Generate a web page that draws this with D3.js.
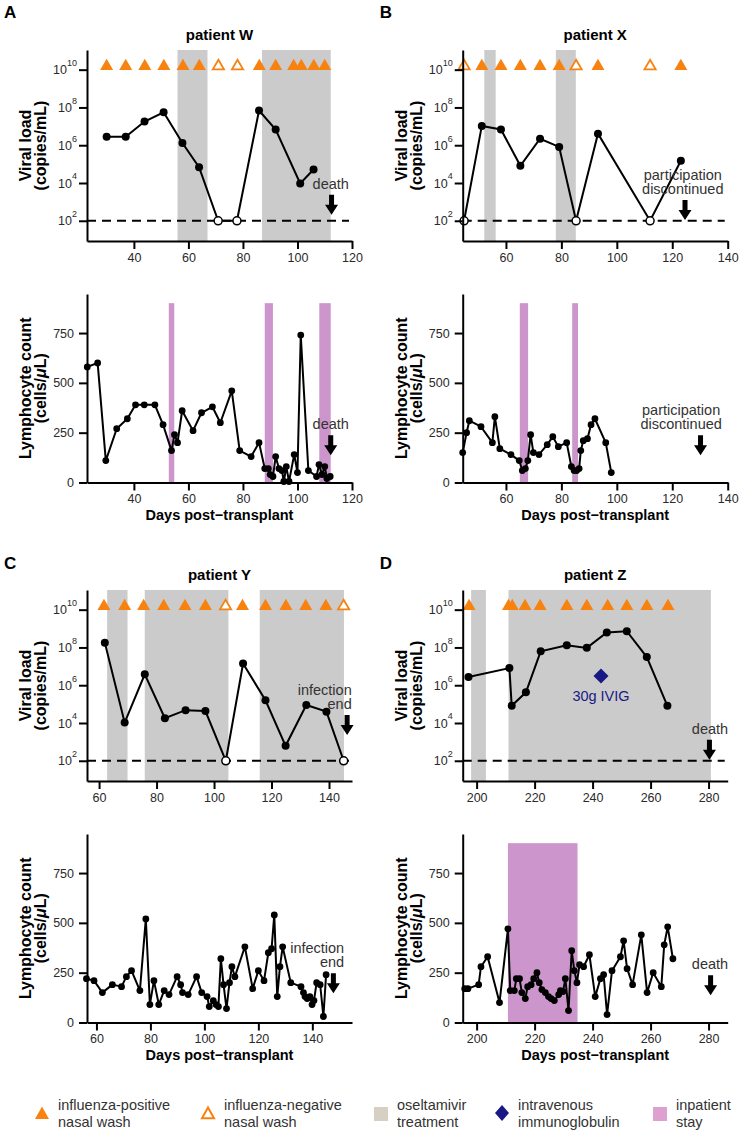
<!DOCTYPE html>
<html><head><meta charset="utf-8">
<script src="https://cdn.jsdelivr.net/npm/d3@7"></script>
<style>body{margin:0;background:#fff}</style>
</head><body>
<svg id="c" width="741" height="1133"></svg>
<script>
// ---------------- DATA ----------------
// Patient W (panel A)
const aLoadDays = [30, 37, 43.9, 50.9, 57.8, 63.9, 70.9, 77.8, 85.9, 92, 101, 105.9];
const aLoad = [2.8e6, 2.8e6, 1.8e7, 5.5e7, 1.3e6, 6.8e4, 100, 100, 6.9e7, 6.8e6, 9.5e3, 5.2e4];
const aPosWash = [30, 37, 44, 51, 58, 64, 86, 92, 98.6, 101.4, 106, 110];
const aNegWash = [71, 78];
const aOseltamivir = [[56, 67], [87, 112.2]];
const aLymphDays = [22.9, 26.7, 29.7, 33.7, 37.6, 40.6, 43.8, 47.7, 50.7, 53.8, 54.9, 56, 57.7, 61.7, 64.8, 68.8, 71.7, 75.9, 78.8, 83, 85.9, 88, 89.3, 90, 91, 92, 93.2, 94.3, 95, 95.9, 96.9, 98.8, 100, 101.2, 104, 107, 107.9, 109, 110, 110.8, 112];
const aLymph = [580, 600, 110, 270, 320, 390, 390, 390, 290, 160, 240, 200, 360, 260, 350, 380, 300, 460, 160, 130, 200, 70, 70, 40, 30, 130, 70, 60, 5, 80, 5, 140, 50, 740, 60, 30, 90, 40, 80, 20, 30];
const aInpatient = [[52.8, 54.8], [88, 91], [108, 112.2]];

// Patient X (panel B)
const bLoadDays = [44.9, 51.3, 58.2, 65.2, 72.3, 79.2, 85.3, 93.2, 112, 123.1];
const bLoad = [100, 1.05e7, 6.8e6, 8.1e4, 2.2e6, 8.1e5, 100, 4.1e6, 100, 1.5e5];
const bPosWash = [51.3, 58.2, 65.2, 72.3, 79.2, 93.2, 123.1];
const bNegWash = [44.9, 85.3, 112];
const bOseltamivir = [[52.2, 56.3], [78, 85.2]];
const bLymphDays = [44.4, 45.8, 46.8, 51, 55.1, 56, 57.8, 61.8, 64.8, 65.9, 67, 67.9, 68.9, 69.9, 71.9, 74.9, 76.9, 78.9, 81.9, 83.6, 84.6, 85.5, 86.4, 87, 87.9, 89.4, 90.7, 92.1, 96, 98];
const bLymph = [150, 250, 310, 280, 200, 330, 170, 140, 110, 60, 70, 110, 240, 150, 140, 190, 230, 180, 200, 80, 60, 60, 70, 160, 210, 220, 290, 320, 200, 50];
const bInpatient = [[65, 68], [83.9, 86]];

// Patient Y (panel C)
const cLoadDays = [62, 68.9, 75.9, 82.9, 90.1, 97, 104.1, 110.1, 117.9, 124.9, 132.1, 139.1, 145.1];
const cLoad = [1.8e8, 1.05e4, 3.8e6, 1.8e4, 4.8e4, 4.3e4, 100, 1.4e7, 1.6e5, 620, 8.9e4, 4e4, 100];
const cPosWash = [61.7, 68.9, 75.5, 82.5, 89.9, 97, 109.9, 117.9, 125, 131.9, 138.9];
const cNegWash = [104, 145.1];
const cOseltamivir = [[62.8, 69.9], [75.9, 105], [115.9, 145.2]];
const cLymphDays = [56.3, 59.1, 62.2, 65.9, 69.3, 71.1, 73, 76.1, 78.3, 79.8, 81.3, 83.1, 85.1, 86.9, 89.9, 91.2, 91.9, 94, 97.1, 99, 101, 101.8, 103.3, 104.3, 105.2, 106.1, 107.1, 108.2, 109.3, 110.2, 111.3, 115, 117.9, 120, 122.1, 123.7, 124.9, 125.9, 127, 128, 129, 132, 135.8, 136.7, 137.3, 138.1, 139.1, 139.9, 140.6, 141.6, 142.9, 144.1, 145.1];
const cLymph = [220, 210, 150, 190, 180, 230, 260, 160, 520, 90, 210, 90, 160, 140, 230, 190, 150, 140, 230, 150, 130, 80, 110, 90, 80, 320, 190, 70, 200, 280, 230, 380, 170, 260, 210, 350, 370, 540, 130, 280, 380, 200, 180, 150, 130, 120, 130, 90, 110, 200, 190, 30, 240];
const cInpatient = [];

// Patient Z (panel D)
const dLoadDays = [197.2, 211.3, 212.1, 217, 222.1, 231.1, 238, 244.9, 251.8, 258.7, 265.8];
const dLoad = [2.75e6, 8.1e6, 8.1e4, 4.2e5, 6.2e7, 1.3e8, 9.5e7, 6.2e8, 7.2e8, 3.1e7, 8.1e4];
const dPosWash = [197.4, 211.0, 212.3, 216.7, 221.9, 231.1, 238, 245.2, 251.8, 258.7, 266];
const dNegWash = [];
const dOseltamivir = [[198.1, 203.2], [211, 280.8]];
const dIvigDays = [242.9];
const dIvigLevel = [3.1e6];
const dLymphDays = [195.9, 197, 200.7, 201.5, 203.8, 207.9, 210.8, 211.6, 213, 213.7, 214.8, 215.6, 216.8, 217.6, 218.8, 219.7, 220.8, 221.6, 222.5, 223.7, 224.8, 225.7, 226.8, 228.3, 228.9, 229.8, 230.6, 231.7, 232.8, 233.7, 234.6, 235.5, 236.9, 238.9, 240.9, 242.7, 243.8, 245, 246.7, 249.6, 250.7, 251.9, 253.8, 256.8, 258.8, 260.9, 263.7, 264.7, 265.9, 267.7];
const dLymph = [170, 170, 190, 280, 330, 100, 470, 160, 160, 220, 220, 150, 120, 180, 190, 220, 250, 200, 165, 150, 130, 120, 110, 140, 160, 155, 220, 60, 360, 260, 200, 290, 280, 340, 130, 220, 240, 40, 260, 330, 410, 270, 190, 440, 150, 250, 180, 390, 480, 320];
const dInpatient = [[210.8, 234.8]];

// Axis ticks
const aTicks = [40, 60, 80, 100, 120];
const bTicks = [60, 80, 100, 120, 140];
const cTicks = [60, 80, 100, 120, 140];
const dTicks = [200, 220, 240, 260, 280];
const loadTicks = [1e2, 1e4, 1e6, 1e8, 1e10];
const lymphTicks = [0, 250, 500, 750];

const detectionLimit = 100;
const washMarkerLevel = 1.6e10;
const inpatientTop = 900;

// Annotations: arrow day, arrow tip value, text day, anchor, lines
const annotations = {
  aTop: {day: 112.5, tip: 210, textDay: 112.2, anchor: 'middle', lines: ['death']},
  aBot: {day: 112.2, tip: 137, textDay: 112.2, anchor: 'middle', lines: ['death']},
  bTop: {day: 124.6, tip: 110, textDay: 123.8, anchor: 'middle', lines: ['participation', 'discontinued']},
  bBot: {day: 130.2, tip: 137, textDay: 123.2, anchor: 'middle', lines: ['participation', 'discontinued']},
  cTop: {day: 146.3, tip: 2340, textDay: 147.9, anchor: 'end', lines: ['infection', 'end']},
  cBot: {day: 147.8, tip: 147, textDay: 151.8, anchor: 'end', lines: ['infection', 'end']},
  dTop: {day: 280.3, tip: 112, textDay: 280.5, anchor: 'middle', lines: ['death']},
  dBot: {day: 280.7, tip: 137, textDay: 280.5, anchor: 'middle', lines: ['death']}
};

// ---------------- STYLE / LAYOUT ----------------
const FONT = "'Liberation Sans', Arial, Helvetica, sans-serif";
const ORANGE = '#f7820f';
const GRAY = '#cbcbcb';
const PINK = '#cc95cc';
const NAVY = '#191985';
const TXT = '#2a2a2a';

const LOAD_DOMAIN = [8.5, 1.1e11];
const LYMPH_DOMAIN = [0, 946];

const svg = d3.select('#c').style('font-family', FONT);

function triPath(open) {
  return 'M0,-7 L6.5,4.3 L-6.5,4.3 Z';
}

function arrow(g, x, tipY) {
  const p = `M${x-2.5},${tipY-20} h5 v10 h4 L${x},${tipY} L${x-6.5},${tipY-10} h4 Z`;
  g.append('path').attr('d', p).attr('fill', '#000');
}

function annotate(g, xs, ys, a) {
  const ax = xs(a.day), tip = ys(a.tip);
  arrow(g, ax, tip);
  const base = tip - 20 - 6;
  const n = a.lines.length;
  a.lines.forEach((t, i) => {
    g.append('text').attr('x', xs(a.textDay)).attr('y', base - (n - 1 - i) * 14)
      .attr('text-anchor', a.anchor).attr('font-size', 14.5).attr('fill', '#333').text(t);
  });
}

function styleAxis(sel) {
  sel.select('.domain').attr('stroke', '#000').attr('stroke-width', 2);
  sel.selectAll('.tick line').attr('stroke', '#000').attr('stroke-width', 2);
  sel.selectAll('.tick text').attr('fill', TXT).attr('font-size', 12.5).attr('font-family', FONT);
}

function yTitle(g, lines, cy) {
  const t = g.append('text').attr('transform', `translate(0,${cy}) rotate(-90)`)
    .attr('text-anchor', 'middle').attr('font-weight', 'bold').attr('font-size', 16).attr('fill', '#000');
  return t;
}

function panelTop(o) {
  const g = svg.append('g');
  const x = d3.scaleLinear().domain(o.xDomain).range([o.x0, o.x1]);
  const y = d3.scaleLog().domain(LOAD_DOMAIN).range([o.yBot, o.yTop]);
  // oseltamivir bands
  g.selectAll(null).data(o.bands).join('rect')
    .attr('x', d => x(d[0])).attr('width', d => x(d[1]) - x(d[0]))
    .attr('y', y(LOAD_DOMAIN[1])).attr('height', y(LOAD_DOMAIN[0]) - y(LOAD_DOMAIN[1]))
    .attr('fill', GRAY);
  // detection limit
  g.append('line').attr('x1', o.x0).attr('x2', o.x1 - 3).attr('y1', y(detectionLimit)).attr('y2', y(detectionLimit))
    .attr('stroke', '#000').attr('stroke-width', 2).attr('stroke-dasharray', '9,6');
  // series
  const pts = o.days.map((d, i) => ({d, v: o.load[i]}));
  g.append('path').datum(pts).attr('fill', 'none').attr('stroke', '#000').attr('stroke-width', 2)
    .attr('d', d3.line().x(p => x(p.d)).y(p => y(p.v)));
  g.selectAll(null).data(pts).join('circle')
    .attr('cx', p => x(p.d)).attr('cy', p => y(p.v)).attr('r', 4)
    .attr('fill', p => p.v <= detectionLimit ? '#fff' : '#000')
    .attr('stroke', '#000').attr('stroke-width', p => p.v <= detectionLimit ? 1.5 : 0);
  // nasal washes
  g.selectAll(null).data(o.pos).join('path').attr('d', triPath())
    .attr('transform', d => `translate(${x(d)},${y(washMarkerLevel)})`).attr('fill', ORANGE);
  g.selectAll(null).data(o.neg).join('path').attr('d', 'M0,-6 L5.6,3.6 L-5.6,3.6 Z')
    .attr('transform', d => `translate(${x(d)},${y(washMarkerLevel)})`)
    .attr('fill', '#fff').attr('stroke', ORANGE).attr('stroke-width', 1.8);
  // IVIG
  if (o.ivigDays) {
    g.selectAll(null).data(o.ivigDays).join('path')
      .attr('d', 'M0,-7.5 L7.5,0 L0,7.5 L-7.5,0 Z')
      .attr('transform', (d, i) => `translate(${x(d)},${y(o.ivigLevel[i])})`).attr('fill', NAVY);
    g.selectAll(null).data(o.ivigDays).join('text')
      .attr('x', d => x(d)).attr('y', (d, i) => y(o.ivigLevel[i]) + 25)
      .attr('text-anchor', 'middle').attr('font-size', 14.5).attr('fill', NAVY).text('30g IVIG');
  }
  // axes
  const ax = g.append('g').attr('transform', `translate(0,${o.yBot})`)
    .call(d3.axisBottom(x).tickValues(o.ticks).tickSize(8).tickSizeOuter(0).tickPadding(4));
  styleAxis(ax);
  const ay = g.append('g').attr('transform', `translate(${o.x0},0)`)
    .call(d3.axisLeft(y).tickValues(loadTicks).tickSize(8).tickSizeOuter(0).tickFormat(() => ''));
  styleAxis(ay);
  loadTicks.forEach(v => {
    const t = g.append('text').attr('x', o.x0 - 10).attr('y', y(v)).attr('dy', '0.36em')
      .attr('text-anchor', 'end').attr('fill', TXT).attr('font-size', 12.5);
    t.append('tspan').text('10');
    t.append('tspan').attr('font-size', 9).attr('dy', '-0.9em').text(Math.round(Math.log10(v)));
  });
  // annotation
  annotate(g, x, y, o.annot);
  // titles
  g.append('text').attr('x', (o.x0 + o.x1) / 2).attr('y', o.yTop - 10).attr('text-anchor', 'middle')
    .attr('font-weight', 'bold').attr('font-size', 15).text(o.title);
  g.append('text').attr('x', o.x0 - 83).attr('y', o.letterY).attr('font-weight', 'bold').attr('font-size', 17).text(o.letter);
  const yt = g.append('text').attr('transform', `translate(${o.x0 - 56},${(o.yTop + o.yBot) / 2}) rotate(-90)`)
    .attr('text-anchor', 'middle').attr('font-weight', 'bold').attr('font-size', 16);
  yt.append('tspan').attr('x', 0).attr('y', 0).text('Viral load');
  yt.append('tspan').attr('x', 0).attr('y', 15).text('(copies/mL)');
}

function panelBottom(o) {
  const g = svg.append('g');
  const x = d3.scaleLinear().domain(o.xDomain).range([o.x0, o.x1]);
  const y = d3.scaleLinear().domain(LYMPH_DOMAIN).range([o.yBot, o.yTop]);
  g.selectAll(null).data(o.bands).join('rect')
    .attr('x', d => x(d[0])).attr('width', d => x(d[1]) - x(d[0]))
    .attr('y', y(inpatientTop)).attr('height', y(0) - y(inpatientTop)).attr('fill', PINK);
  const pts = o.days.map((d, i) => ({d, v: o.vals[i]}));
  g.append('path').datum(pts).attr('fill', 'none').attr('stroke', '#000').attr('stroke-width', 2)
    .attr('stroke-linejoin', 'round')
    .attr('d', d3.line().x(p => x(p.d)).y(p => y(p.v)));
  g.selectAll(null).data(pts).join('circle')
    .attr('cx', p => x(p.d)).attr('cy', p => y(p.v)).attr('r', 3.4).attr('fill', '#000');
  const ax = g.append('g').attr('transform', `translate(0,${o.yBot})`)
    .call(d3.axisBottom(x).tickValues(o.ticks).tickSize(8).tickSizeOuter(0).tickPadding(4));
  styleAxis(ax);
  const ay = g.append('g').attr('transform', `translate(${o.x0},0)`)
    .call(d3.axisLeft(y).tickValues(lymphTicks).tickSize(8).tickSizeOuter(0).tickPadding(5));
  styleAxis(ay);
  annotate(g, x, y, o.annot);
  const yt = g.append('text').attr('transform', `translate(${o.x0 - 56},${(o.yTop + o.yBot) / 2}) rotate(-90)`)
    .attr('text-anchor', 'middle').attr('font-weight', 'bold').attr('font-size', 16);
  yt.append('tspan').attr('x', 0).attr('y', 0).text('Lymphocyte count');
  const t2 = yt.append('tspan').attr('x', 0).attr('y', 15);
  t2.append('tspan').text('(cells/');
  t2.append('tspan').attr('font-style', 'italic').text('μ');
  t2.append('tspan').text('L)');
  g.append('text').attr('x', (o.x0 + o.x1) / 2).attr('y', o.yBot + 37).attr('text-anchor', 'middle')
    .attr('font-weight', 'bold').attr('font-size', 14.5).text('Days post\u2212transplant');
}

const COL1 = {x0: 87, x1: 352};
const COL2 = {x0: 462.7, x1: 727.7};
const ROW = [{top: [50, 241], bot: [294, 482.5]}, {top: [590, 781], bot: [834, 1022.5]}];

panelTop({...COL1, yTop: ROW[0].top[0], yBot: ROW[0].top[1], xDomain: [22.8, 120], ticks: aTicks,
  days: aLoadDays, load: aLoad, pos: aPosWash, neg: aNegWash, bands: aOseltamivir,
  annot: annotations.aTop, title: 'patient W', letter: 'A', letterY: 18});
panelBottom({...COL1, yTop: ROW[0].bot[0], yBot: ROW[0].bot[1], xDomain: [22.8, 120], ticks: aTicks,
  days: aLymphDays, vals: aLymph, bands: aInpatient, annot: annotations.aBot});

panelTop({...COL2, yTop: ROW[0].top[0], yBot: ROW[0].top[1], xDomain: [44.4, 140], ticks: bTicks,
  days: bLoadDays, load: bLoad, pos: bPosWash, neg: bNegWash, bands: bOseltamivir,
  annot: annotations.bTop, title: 'patient X', letter: 'B', letterY: 18});
panelBottom({...COL2, yTop: ROW[0].bot[0], yBot: ROW[0].bot[1], xDomain: [44.4, 140], ticks: bTicks,
  days: bLymphDays, vals: bLymph, bands: bInpatient, annot: annotations.bBot});

panelTop({...COL1, yTop: ROW[1].top[0], yBot: ROW[1].top[1], xDomain: [55.8, 148], ticks: cTicks,
  days: cLoadDays, load: cLoad, pos: cPosWash, neg: cNegWash, bands: cOseltamivir,
  annot: annotations.cTop, title: 'patient Y', letter: 'C', letterY: 569});
panelBottom({...COL1, yTop: ROW[1].bot[0], yBot: ROW[1].bot[1], xDomain: [56.5, 154.7], ticks: cTicks,
  days: cLymphDays, vals: cLymph, bands: cInpatient, annot: annotations.cBot});

panelTop({...COL2, yTop: ROW[1].top[0], yBot: ROW[1].top[1], xDomain: [195.2, 286.6], ticks: dTicks,
  days: dLoadDays, load: dLoad, pos: dPosWash, neg: dNegWash, bands: dOseltamivir,
  ivigDays: dIvigDays, ivigLevel: dIvigLevel,
  annot: annotations.dTop, title: 'patient Z', letter: 'D', letterY: 569});
panelBottom({...COL2, yTop: ROW[1].bot[0], yBot: ROW[1].bot[1], xDomain: [195.2, 286.6], ticks: dTicks,
  days: dLymphDays, vals: dLymph, bands: dInpatient, annot: annotations.dBot});

// ---------------- LEGEND ----------------
const legendItems = [
  {x: 42, kind: 'tri', lines: ['influenza-positive', 'nasal wash']},
  {x: 208, kind: 'otri', lines: ['influenza-negative', 'nasal wash']},
  {x: 381, kind: 'sq', color: '#d6cfc4', lines: ['oseltamivir', 'treatment']},
  {x: 502, kind: 'dia', lines: ['intravenous', 'immunoglobulin']},
  {x: 660, kind: 'sq', color: '#dda0cf', lines: ['inpatient', 'stay']}
];
const LY = 1114;
const lg = svg.append('g');
legendItems.forEach(it => {
  if (it.kind === 'tri') lg.append('path').attr('d', 'M0,-7.5 L7,5 L-7,5 Z').attr('transform', `translate(${it.x},${LY})`).attr('fill', ORANGE);
  if (it.kind === 'otri') lg.append('path').attr('d', 'M0,-6.5 L6,4.3 L-6,4.3 Z').attr('transform', `translate(${it.x},${LY})`)
    .attr('fill', '#fff').attr('stroke', ORANGE).attr('stroke-width', 2);
  if (it.kind === 'sq') lg.append('rect').attr('x', it.x - 7).attr('y', LY - 7).attr('width', 14).attr('height', 14).attr('fill', it.color);
  if (it.kind === 'dia') lg.append('path').attr('d', 'M0,-8 L7,0 L0,8 L-7,0 Z').attr('transform', `translate(${it.x},${LY - 1})`).attr('fill', NAVY);
  it.lines.forEach((t, i) => {
    lg.append('text').attr('x', it.x + 16).attr('y', 1110 + i * 16.5).attr('font-size', 14.5).attr('fill', '#333').text(t);
  });
});
</script>
</body></html>
